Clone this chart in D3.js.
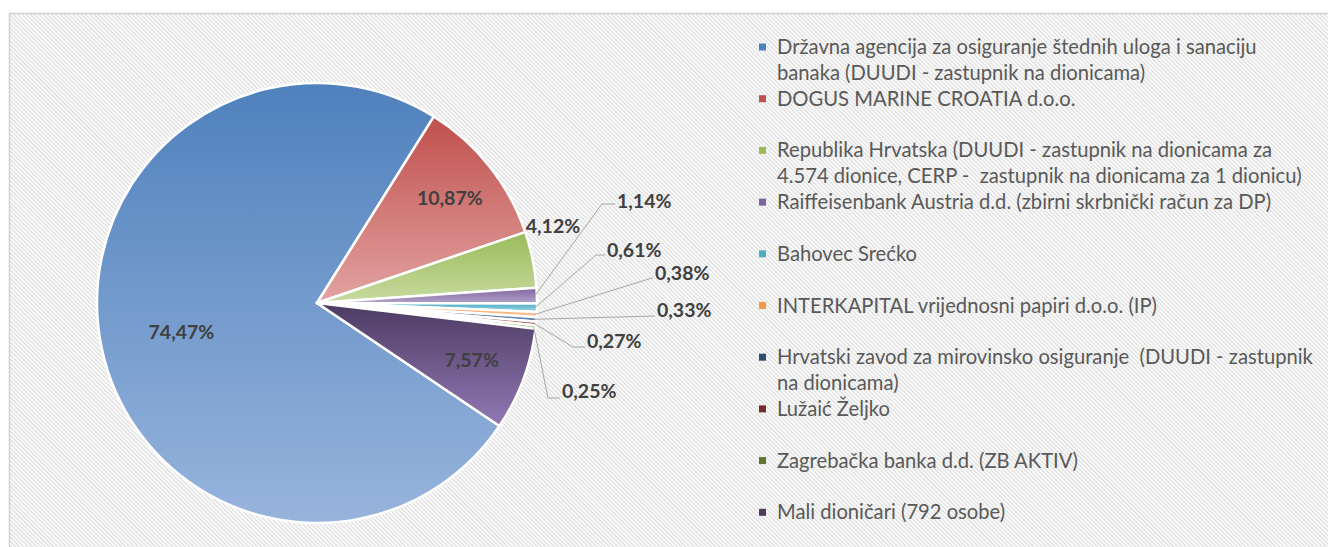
<!DOCTYPE html>
<html>
<head>
<meta charset="utf-8">
<script src="https://cdn.jsdelivr.net/npm/d3@7"></script>
<style>
  body { margin: 0; background: #fff; }
  svg { display: block; }
  text { white-space: pre; }
</style>
</head>
<body>
<div id="chart"></div>
<script>
// shareholders, in pie order (clockwise)
var legendLines = [
  ["Državna agencija za osiguranje štednih uloga i sanaciju", "banaka (DUUDI - zastupnik na dionicama)"],
  ["DOGUS MARINE CROATIA d.o.o."],
  ["Republika Hrvatska (DUUDI - zastupnik na dionicama za", "4.574 dionice, CERP -  zastupnik na dionicama za 1 dionicu)"],
  ["Raiffeisenbank Austria d.d. (zbirni skrbnički račun za DP)"],
  ["Bahovec Srećko"],
  ["INTERKAPITAL vrijednosni papiri d.o.o. (IP)"],
  ["Hrvatski zavod za mirovinsko osiguranje  (DUUDI - zastupnik", "na dionicama)"],
  ["Lužaić Željko"],
  ["Zagrebačka banka d.d. (ZB AKTIV)"],
  ["Mali dioničari (792 osobe)"]
];
var shares = [74.47, 10.87, 4.12, 1.14, 0.61, 0.38, 0.33, 0.27, 0.25, 7.57];
var labels = ["74,47%", "10,87%", "4,12%", "1,14%", "0,61%", "0,38%", "0,33%", "0,27%", "0,25%", "7,57%"];

var colors = ["#4f81bd", "#c0504d", "#9bbb59", "#8064a2", "#4bacc6", "#f79646", "#2c4d75", "#772c2a", "#5f7530", "#4d3b62"];
var colorsLight = ["#97b4dc", "#e2a3a1", "#c7dba0", "#b3a2c9", "#9fd5e3", "#fbc9a0", "#6f8fbf", "#b86b69", "#9fb86b", "#9178b3"];

var width = 1328, height = 547;
var cx = 317, cy = 303, r = 220;

var svg = d3.select("#chart").append("svg")
  .attr("width", width)
  .attr("height", height);

var defs = svg.append("defs");

// hatched background
var pat = defs.append("pattern")
  .attr("id", "hatch")
  .attr("patternUnits", "userSpaceOnUse")
  .attr("width", 4)
  .attr("height", 3)
  .attr("patternTransform", "rotate(45)");
pat.append("rect").attr("width", 4).attr("height", 3).attr("fill", "#ffffff");
pat.append("rect").attr("width", 4).attr("height", 1.3).attr("fill", "#dcdcdc");

svg.append("rect")
  .attr("x", 9.5).attr("y", 13.5)
  .attr("width", width + 10).attr("height", height + 10)
  .attr("fill", "url(#hatch)")
  .attr("stroke", "#d0d0d0")
  .attr("stroke-width", 1.5);

// one vertical gradient per slice
colors.forEach(function (c, i) {
  var g = defs.append("linearGradient")
    .attr("id", "grad" + i)
    .attr("x1", 0).attr("y1", 0).attr("x2", 0).attr("y2", 1);
  g.append("stop").attr("offset", "0%").attr("stop-color", c);
  g.append("stop").attr("offset", "100%").attr("stop-color", colorsLight[i]);
});

var pie = d3.pie()
  .sort(null)
  .startAngle(124 * Math.PI / 180)
  .endAngle(124 * Math.PI / 180 + 2 * Math.PI);

var arcs = pie(shares);
var arc = d3.arc().innerRadius(0).outerRadius(r);
var edge = d3.arc().innerRadius(r - 2).outerRadius(r - 2);

var g = svg.append("g").attr("transform", "translate(" + cx + "," + cy + ")");

g.selectAll("path.slice")
  .data(arcs)
  .enter().append("path")
  .attr("class", "slice")
  .attr("d", arc)
  .attr("fill", function (d, i) { return "url(#grad" + i + ")"; })
  .attr("stroke", "#ffffff")
  .attr("stroke-width", 2.5)
  .attr("stroke-linejoin", "round");

// label layout: inside labels use a radius factor, small ones sit outside
// with an elbow leader line [elbowX, elbowY, textX, textY] relative to centre
var inside = { 0: 0.63, 1: 0.77, 9: 0.75 };
var outside = {
  3: [285, -99, 300, 4],
  4: [279, -48, 290, 2],
  5: [335, -25, 338, 2],
  6: [338, 13, 340, 1],
  7: [256, 44, 270, 1],
  8: [231, 95, 245, 0]
};

var labelFont = "Lato, 'Open Sans', sans-serif";
var labelSize = 19.5;

arcs.forEach(function (d, i) {
  if (inside[i] !== undefined) {
    var c = d3.arc().innerRadius(r * inside[i]).outerRadius(r * inside[i]).centroid(d);
    g.append("text")
      .attr("x", c[0]).attr("y", c[1])
      .attr("text-anchor", "middle")
      .attr("dy", "0.35em")
      .attr("font-family", labelFont)
      .attr("font-weight", "bold")
      .attr("font-size", labelSize)
      .attr("fill", "#404040")
      .text(labels[i]);
  } else if (outside[i]) {
    var o = outside[i];
    var p = edge.centroid(d);
    var lp = [o[2] - 2, o[1]];
    g.append("polyline")
      .attr("points", [p, [o[0], o[1]], lp].map(function (q) { return q.join(","); }).join(" "))
      .attr("fill", "none")
      .attr("stroke", "#a6a6a6")
      .attr("stroke-width", 1);
    g.append("text")
      .attr("x", o[2]).attr("y", o[1] + o[3])
      .attr("font-family", labelFont)
      .attr("font-weight", "bold")
      .attr("font-size", labelSize)
      .attr("fill", "#404040")
      .text(labels[i]);
  } else {
    // 4,12% sits just outside the green slice
    g.append("text")
      .attr("x", 236).attr("y", -77)
      .attr("text-anchor", "middle")
      .attr("dy", "0.35em")
      .attr("font-family", labelFont)
      .attr("font-weight", "bold")
      .attr("font-size", labelSize)
      .attr("fill", "#404040")
      .text(labels[i]);
  }
});

// legend
var legend = svg.append("g").attr("transform", "translate(759,47)");
var step = 51.7, lineH = 26;
var legendFont = "Lato, 'Open Sans', sans-serif";

// size the legend font: first line about 510px wide, no line past the right edge
var probe = svg.append("text")
  .attr("font-family", legendFont)
  .attr("font-size", 20);
var widest = 0;
legendLines.forEach(function (lines) {
  lines.forEach(function (ln) {
    probe.text(ln);
    widest = Math.max(widest, probe.node().getComputedTextLength());
  });
});
probe.text(legendLines[0][0]);
var legendSize = Math.min(20 * 510 / probe.node().getComputedTextLength(), 20 * 536 / widest);
probe.remove();

var items = legend.selectAll("g.item")
  .data(legendLines)
  .enter().append("g")
  .attr("class", "item")
  .attr("transform", function (d, i) { return "translate(0," + (i * step) + ")"; });

items.append("rect")
  .attr("x", 0).attr("y", -3.5)
  .attr("width", 7).attr("height", 7)
  .attr("fill", function (d, i) { return colors[i]; });

items.each(function (lines) {
  var t = d3.select(this).append("text")
    .attr("font-family", legendFont)
    .attr("font-size", legendSize)
    .attr("fill", "#595959");
  lines.forEach(function (ln, k) {
    t.append("tspan")
      .attr("x", 18)
      .attr("y", k * lineH)
      .attr("dy", "0.35em")
      .text(ln);
  });
});
</script>
</body>
</html>
